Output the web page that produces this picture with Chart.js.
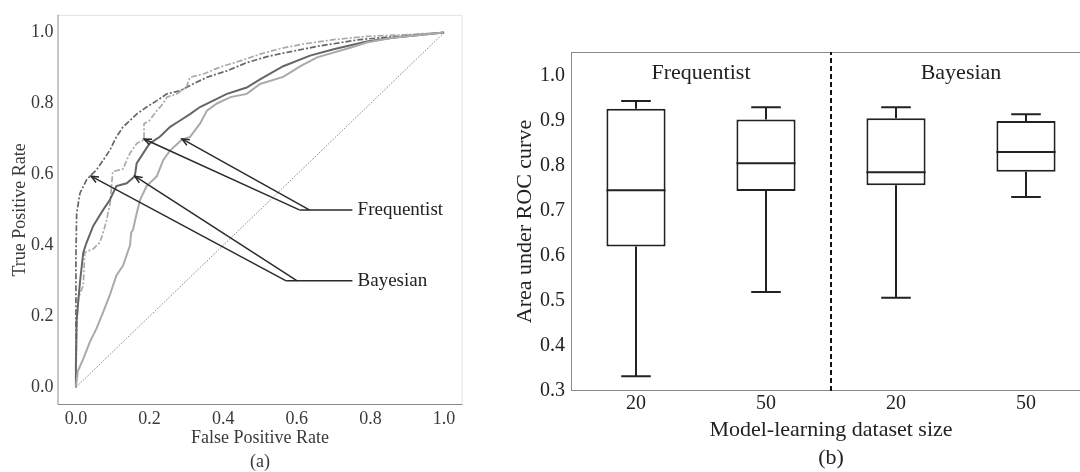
<!DOCTYPE html>
<html>
<head>
<meta charset="utf-8">
<script src="https://cdn.jsdelivr.net/npm/chart.js@4.4.1/dist/chart.umd.min.js"></script>
<style>
  html, body { margin: 0; padding: 0; background: #fff; overflow: hidden; }
  body { width: 1080px; height: 472px; position: relative; }
  #rocChart { position: absolute; left: 0; top: 0; }
  #aucChart { position: absolute; left: 480px; top: 0; }
</style>
</head>
<body>
<canvas id="rocChart" width="480" height="472"></canvas>
<canvas id="aucChart" width="620" height="472"></canvas>
<script>
// (a) ROC curves
const bayesDashFpr = [0, 0, 0.002, 0.011, 0.029, 0.041, 0.056, 0.074, 0.092, 0.11, 0.128, 0.147, 0.165, 0.192, 0.22, 0.247, 0.283, 0.318, 0.356, 0.41, 0.464, 0.519, 0.563, 0.655, 0.77, 0.88, 1.0];
const bayesDashTpr = [0, 0.36, 0.49, 0.547, 0.585, 0.598, 0.613, 0.64, 0.668, 0.706, 0.734, 0.752, 0.77, 0.79, 0.808, 0.827, 0.836, 0.855, 0.874, 0.892, 0.915, 0.932, 0.942, 0.961, 0.98, 0.99, 1.0];

const freqDashFpr = [0, 0.002, 0.006, 0.02, 0.024, 0.047, 0.065, 0.074, 0.083, 0.093, 0.10, 0.128, 0.138, 0.147, 0.165, 0.185, 0.185, 0.20, 0.22, 0.237, 0.247, 0.274, 0.30, 0.31, 0.346, 0.39, 0.446, 0.50, 0.555, 0.62, 0.70, 0.79, 0.88, 1.0];
const freqDashTpr = [0, 0.156, 0.25, 0.287, 0.38, 0.39, 0.408, 0.436, 0.47, 0.52, 0.608, 0.615, 0.64, 0.66, 0.687, 0.698, 0.743, 0.752, 0.78, 0.8, 0.818, 0.827, 0.846, 0.874, 0.883, 0.902, 0.92, 0.939, 0.955, 0.968, 0.98, 0.989, 0.993, 1.0];

const bayesSolidFpr = [0, 0, 0.002, 0.011, 0.02, 0.029, 0.047, 0.074, 0.092, 0.11, 0.138, 0.16, 0.165, 0.183, 0.20, 0.228, 0.256, 0.283, 0.31, 0.337, 0.373, 0.41, 0.464, 0.50, 0.563, 0.636, 0.70, 0.79, 0.86, 1.0];
const bayesSolidTpr = [0, 0.064, 0.19, 0.296, 0.38, 0.408, 0.455, 0.5, 0.528, 0.567, 0.575, 0.595, 0.631, 0.66, 0.687, 0.706, 0.734, 0.752, 0.77, 0.79, 0.808, 0.827, 0.845, 0.868, 0.905, 0.935, 0.953, 0.975, 0.985, 1.0];

const freqSolidFpr = [0, 0.005, 0.02, 0.038, 0.056, 0.074, 0.092, 0.11, 0.128, 0.147, 0.15, 0.155, 0.165, 0.174, 0.192, 0.22, 0.237, 0.256, 0.288, 0.31, 0.337, 0.356, 0.383, 0.42, 0.464, 0.50, 0.563, 0.61, 0.655, 0.745, 0.79, 0.86, 1.0];
const freqSolidTpr = [0, 0.045, 0.08, 0.128, 0.166, 0.212, 0.26, 0.315, 0.343, 0.4, 0.436, 0.444, 0.49, 0.528, 0.567, 0.595, 0.64, 0.668, 0.698, 0.706, 0.743, 0.78, 0.8, 0.818, 0.827, 0.855, 0.875, 0.905, 0.93, 0.957, 0.972, 0.985, 1.0];

const chanceFpr = [0, 1];
const chanceTpr = [0, 1];
const rocTicks = [0, 0.2, 0.4, 0.6, 0.8, 1.0];

// annotations of (a), in data units
const annotLabels = ["Frequentist", "Bayesian"];
const annotTips = [[[0.185, 0.70], [0.288, 0.70]], [[0.041, 0.595], [0.16, 0.595]]];
const annotElbows = [[0.607, 0.634], [0.571, 0.601]];
const annotY = [0.5, 0.3];
const annotLineEnd = 0.751;
const annotTextX = 0.765;

// (b) AUC box plots
const sizeLabels = ["20", "50", "20", "50"];
const methodLabels = ["Frequentist", "Bayesian"];
const aucMin = [0.333, 0.52, 0.507, 0.731];
const aucQ1 = [0.621, 0.744, 0.757, 0.787];
const aucMedian = [0.746, 0.806, 0.786, 0.831];
const aucQ3 = [0.927, 0.903, 0.906, 0.9];
const aucMax = [0.944, 0.93, 0.93, 0.915];
const aucTicks = [0.3, 0.4, 0.5, 0.6, 0.7, 0.8, 0.9, 1.0];

const serif = "'Liberation Serif', 'Times New Roman', serif";
const dark = "#666";
const light = "#aaa";

function pts(xs, ys) {
  return xs.map((x, i) => ({ x: x, y: ys[i] }));
}

// frame + arrows for the ROC panel
const rocDecor = {
  id: "rocDecor",
  beforeDatasetsDraw(chart) {
    const { ctx, chartArea: a } = chart;
    ctx.save();
    ctx.lineWidth = 1;
    ctx.strokeStyle = "#e2e2e2";
    ctx.beginPath();
    ctx.moveTo(a.left, a.top + 0.5);
    ctx.lineTo(a.right - 0.5, a.top + 0.5);
    ctx.lineTo(a.right - 0.5, a.bottom);
    ctx.stroke();
    ctx.strokeStyle = "#8a8a8a";
    ctx.beginPath();
    ctx.moveTo(a.left + 0.5, a.top);
    ctx.lineTo(a.left + 0.5, a.bottom - 0.5);
    ctx.lineTo(a.right, a.bottom - 0.5);
    ctx.stroke();
    ctx.restore();
  },
  afterDatasetsDraw(chart) {
    const { ctx } = chart;
    const x = chart.scales.x, y = chart.scales.y;
    ctx.save();
    ctx.strokeStyle = "#2a2a2a";
    ctx.fillStyle = "#222";
    ctx.lineWidth = 1.5;
    ctx.font = "19px " + serif;
    ctx.textBaseline = "middle";
    annotLabels.forEach((label, k) => {
      const yy = y.getPixelForValue(annotY[k]);
      ctx.beginPath();
      ctx.moveTo(x.getPixelForValue(Math.min(...annotElbows[k])), yy);
      ctx.lineTo(x.getPixelForValue(annotLineEnd), yy);
      ctx.stroke();
      annotTips[k].forEach((tip, j) => {
        const x0 = x.getPixelForValue(annotElbows[k][j]);
        const x1 = x.getPixelForValue(tip[0]);
        const y1 = y.getPixelForValue(tip[1]);
        ctx.beginPath();
        ctx.moveTo(x0, yy);
        ctx.lineTo(x1, y1);
        ctx.stroke();
        const ang = Math.atan2(y1 - yy, x1 - x0);
        const hl = 8;
        ctx.beginPath();
        ctx.moveTo(x1 - hl * Math.cos(ang - 0.4), y1 - hl * Math.sin(ang - 0.4));
        ctx.lineTo(x1, y1);
        ctx.lineTo(x1 - hl * Math.cos(ang + 0.4), y1 - hl * Math.sin(ang + 0.4));
        ctx.stroke();
      });
      ctx.fillText(label, x.getPixelForValue(annotTextX), yy);
    });
    ctx.restore();
  }
};

new Chart(document.getElementById("rocChart"), {
  type: "scatter",
  data: {
    datasets: [
      { data: pts(chanceFpr, chanceTpr), borderColor: "#444", borderWidth: 0.8, borderDash: [1, 1.5] },
      { data: pts(freqSolidFpr, freqSolidTpr), borderColor: light, borderWidth: 2 },
      { data: pts(bayesSolidFpr, bayesSolidTpr), borderColor: dark, borderWidth: 2 },
      { data: pts(freqDashFpr, freqDashTpr), borderColor: light, borderWidth: 1.7, borderDash: [6, 2, 2, 2] },
      { data: pts(bayesDashFpr, bayesDashTpr), borderColor: dark, borderWidth: 1.7, borderDash: [6, 2, 2, 2] }
    ].map(d => Object.assign({ showLine: true, pointRadius: 0, tension: 0, fill: false }, d))
  },
  options: {
    responsive: false,
    animation: false,
    layout: { padding: { top: 10, right: 17.5, left: 0, bottom: 0 } },
    plugins: { legend: { display: false }, tooltip: { enabled: false } },
    scales: {
      x: {
        type: "linear", min: -0.05, max: 1.05,
        grid: { display: false, drawTicks: false },
        border: { display: false },
        afterBuildTicks: s => { s.ticks = rocTicks.map(v => ({ value: v })); },
        afterFit: s => { s.height = 67; },
        ticks: { padding: 3, color: "#3a3a3a", font: { family: serif, size: 18 }, callback: v => v.toFixed(1), maxRotation: 0 },
        title: { display: true, text: ["False Positive Rate", "(a)"], color: "#3a3a3a", padding: { top: 0, bottom: -2 }, font: { family: serif, size: 18, lineHeight: "24px" } }
      },
      y: {
        type: "linear", min: -0.05, max: 1.05,
        grid: { display: false, drawTicks: false },
        border: { display: false },
        afterBuildTicks: s => { s.ticks = rocTicks.map(v => ({ value: v })); },
        afterFit: s => { s.width = 57.5; },
        ticks: { padding: 4, color: "#3a3a3a", font: { family: serif, size: 18 }, callback: v => v.toFixed(1) },
        title: { display: true, text: "True Positive Rate", color: "#3a3a3a", padding: { top: 9, bottom: 0 }, font: { family: serif, size: 18 } }
      }
    }
  },
  plugins: [rocDecor]
});

// whiskers, medians, divider and method names for the box panel
const boxDecor = {
  id: "boxDecor",
  afterDatasetsDraw(chart) {
    const { ctx, chartArea: a } = chart;
    const x = chart.scales.x, y = chart.scales.y;
    const boxW = chart.getDatasetMeta(0).data[0].width;
    ctx.save();
    ctx.strokeStyle = "#222";
    ctx.lineWidth = 2;
    sizeLabels.forEach((lab, i) => {
      const cx = x.getPixelForValue(i);
      const cap = boxW / 4;
      ctx.beginPath();
      ctx.moveTo(cx, y.getPixelForValue(aucQ3[i]));
      ctx.lineTo(cx, y.getPixelForValue(aucMax[i]));
      ctx.moveTo(cx - cap, y.getPixelForValue(aucMax[i]));
      ctx.lineTo(cx + cap, y.getPixelForValue(aucMax[i]));
      ctx.moveTo(cx, y.getPixelForValue(aucQ1[i]));
      ctx.lineTo(cx, y.getPixelForValue(aucMin[i]));
      ctx.moveTo(cx - cap, y.getPixelForValue(aucMin[i]));
      ctx.lineTo(cx + cap, y.getPixelForValue(aucMin[i]));
      ctx.moveTo(cx - boxW / 2, y.getPixelForValue(aucMedian[i]));
      ctx.lineTo(cx + boxW / 2, y.getPixelForValue(aucMedian[i]));
      ctx.stroke();
    });
    // frame
    ctx.lineWidth = 1;
    ctx.strokeStyle = "#8a8a8a";
    ctx.strokeRect(a.left + 0.5, a.top + 0.5, a.right - a.left - 1, a.bottom - a.top - 1);
    // divider between methods
    const dx = x.getPixelForValue(1.5);
    ctx.strokeStyle = "#111";
    ctx.lineWidth = 2;
    ctx.setLineDash([5, 3]);
    ctx.beginPath();
    ctx.moveTo(dx, a.bottom);
    ctx.lineTo(dx, a.top);
    ctx.stroke();
    ctx.setLineDash([]);
    ctx.fillStyle = "#222";
    ctx.font = "22px " + serif;
    ctx.textAlign = "center";
    ctx.textBaseline = "middle";
    methodLabels.forEach((m, k) => {
      ctx.fillText(m, x.getPixelForValue(0.5 + 2 * k), y.getPixelForValue(1.005));
    });
    ctx.restore();
  }
};

new Chart(document.getElementById("aucChart"), {
  type: "bar",
  data: {
    labels: sizeLabels,
    datasets: [{
      data: aucQ1.map((q, i) => [q, aucQ3[i]]),
      backgroundColor: "#fff",
      borderColor: "#222",
      borderWidth: 2,
      borderSkipped: false,
      barPercentage: 0.455,
      categoryPercentage: 1
    }]
  },
  options: {
    responsive: false,
    animation: false,
    layout: { padding: { top: 52, right: 9, left: 0, bottom: 0 } },
    plugins: { legend: { display: false }, tooltip: { enabled: false } },
    scales: {
      x: {
        grid: { display: false, drawTicks: false },
        border: { display: false },
        afterFit: s => { s.height = 81; },
        ticks: { padding: 1, color: "#222", font: { family: serif, size: 20 }, maxRotation: 0 },
        title: { display: true, text: ["Model-learning dataset size", "(b)"], color: "#222", padding: 0, font: { family: serif, size: 22, lineHeight: "28px" } }
      },
      y: {
        min: 0.3, max: 1.053,
        grid: { display: false, drawTicks: false },
        border: { display: false },
        afterBuildTicks: s => { s.ticks = aucTicks.map(v => ({ value: v })); },
        afterFit: s => { s.width = 91; },
        ticks: { padding: 6, color: "#222", font: { family: serif, size: 20 }, callback: v => v.toFixed(1) },
        title: { display: true, text: "Area under ROC curve", color: "#222", padding: { top: 32, bottom: 0 }, font: { family: serif, size: 22 } }
      }
    }
  },
  plugins: [boxDecor]
});
</script>
</body>
</html>
